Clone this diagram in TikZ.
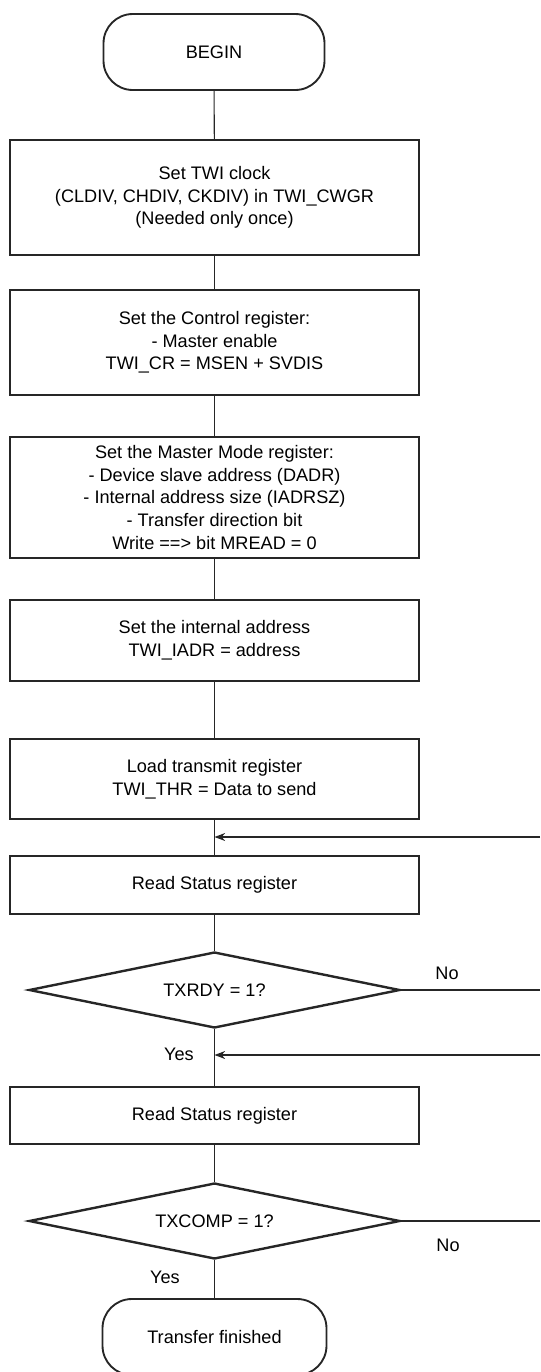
\documentclass[tikz,border=0pt]{standalone}
\usepackage{fontspec}
\setmainfont{Liberation Sans}
\usetikzlibrary{shapes.geometric,arrows.meta}
\begin{document}
\begin{tikzpicture}[x=0.75pt,y=-0.75pt,
  every node/.style={font=\fontsize{13.6}{17}\selectfont, align=center, inner sep=0pt},
  procbox/.style={draw=black!85, line width=1.8pt, minimum width=409*0.75pt},
  termbox/.style={draw=black!85, line width=1.4pt, rounded corners=22pt},
  decbox/.style={draw=black!85, line width=1.8pt, diamond, aspect=4.88, minimum width=371*0.75pt, minimum height=76*0.75pt},
  conn/.style={draw=black!85, line width=0.8pt},
  arr/.style={conn, -{Stealth[length=8pt,width=6pt]}},
  lbl/.style={font=\fontsize{13.6}{17}\selectfont}]
\useasboundingbox (0,0) rectangle (540,1372);
\node[termbox, minimum width=221*0.75pt, minimum height=76*0.75pt] (begin) at (214,52) {BEGIN};
\node[procbox, minimum height=115*0.75pt] (b1) at (214.5,197.5) {Set TWI clock\\(CLDIV, CHDIV, CKDIV) in TWI\_CWGR\\(Needed only once)};
\node[procbox, minimum height=105*0.75pt] (b2) at (214.5,342.5) {Set the Control register:\\- Master enable\\TWI\_CR = MSEN + SVDIS};
\node[procbox, minimum height=121*0.75pt] (b3) at (214.5,497.5) {Set the Master Mode register:\\- Device slave address (DADR)\\- Internal address size (IADRSZ)\\- Transfer direction bit\\Write ==> bit MREAD = 0};
\node[procbox, minimum height=81*0.75pt] (b4) at (214.5,640.5) {Set the internal address\\TWI\_IADR = address};
\node[procbox, minimum height=80*0.75pt] (b5) at (214.5,779) {Load transmit register\\TWI\_THR = Data to send};
\node[procbox, minimum height=58*0.75pt] (b6) at (214.5,885) {Read Status register};
\node[decbox] (d1) at (214.5,990) {TXRDY = 1?};
\node[procbox, minimum height=57*0.75pt] (b7) at (214.5,1115.5) {Read Status register};
\node[decbox] (d2) at (214.5,1221) {TXCOMP = 1?};
\node[termbox, minimum width=224*0.75pt, minimum height=76*0.75pt] (end) at (214.5,1337) {Transfer finished};

\coordinate (m1) at (214.5,837);
\coordinate (r1) at (540,837);
\coordinate (m2) at (214.5,1055);
\coordinate (r2) at (540,1055);
\coordinate (n1) at (540,990);
\coordinate (n2) at (540,1221);

\draw[conn] (begin) -- (b1);
\draw[conn] (b1) -- (b2);
\draw[conn] (b2) -- (b3);
\draw[conn] (b3) -- (b4);
\draw[conn] (b4) -- (b5);
\draw[conn] (b5) -- (b6);
\draw[conn] (b6) -- (d1);
\draw[conn] (d1) -- (b7);
\draw[conn] (b7) -- (d2);
\draw[conn] (d2) -- (end);
\draw[conn] (d1.east) -- (n1);
\draw[conn] (d2.east) -- (n2);
\draw[arr] (r1) -- (m1);
\draw[arr] (r2) -- (m2);

\node[lbl] (no1) at (447,973) {No};
\node[lbl] (no2) at (448,1245) {No};
\node[lbl] (yes1) at (179,1054) {Yes};
\node[lbl] (yes2) at (165,1277) {Yes};
\end{tikzpicture}
\end{document}
